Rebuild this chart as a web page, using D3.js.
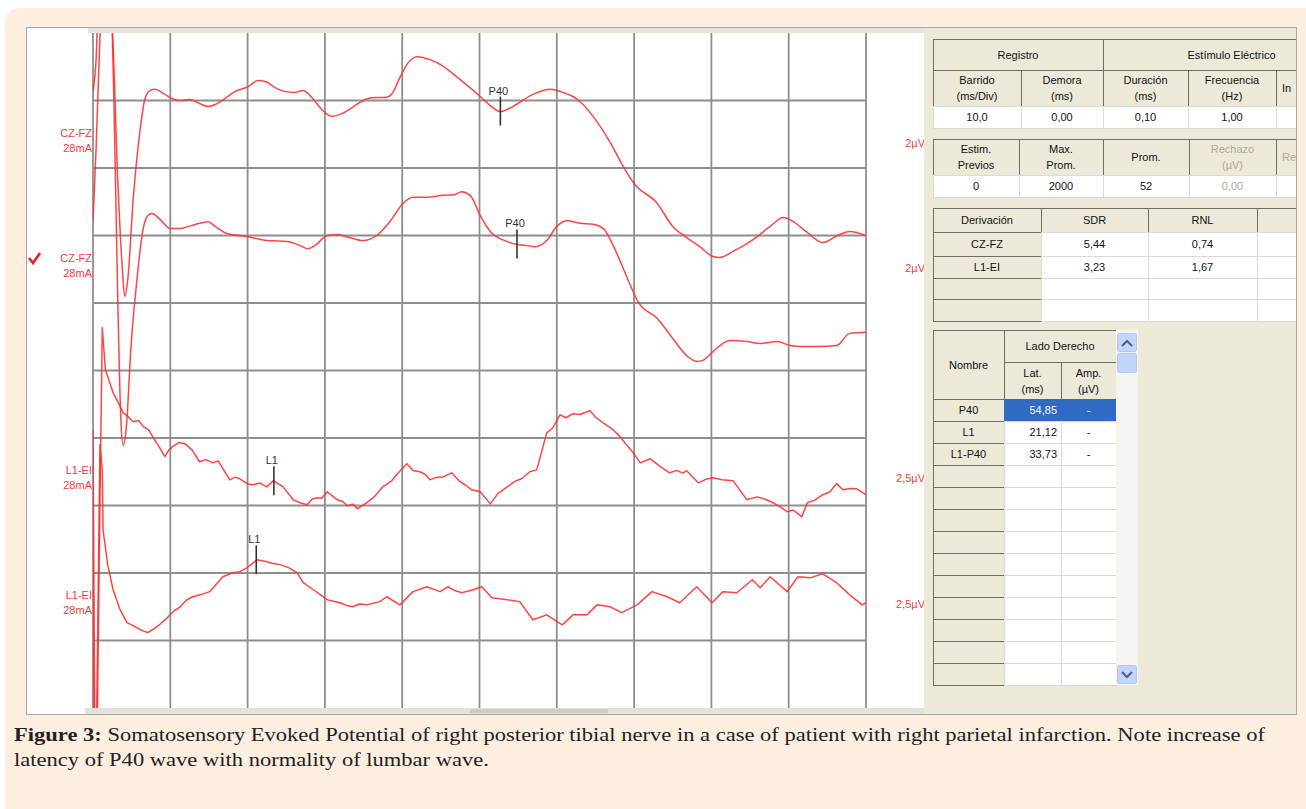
<!DOCTYPE html>
<html>
<head>
    <title>Figure 3 - SEP tibial nerve</title>
    <meta charset="utf-8" />
    <script src="https://cdn.jsdelivr.net/npm/d3@7"></script>
    <style>
        body { margin: 0; background: #fff; }
        svg text { font-family: "Liberation Sans", Arial, sans-serif; }
    </style>
</head>
<body>
<svg width="1306" height="809"></svg>
<script>

    // traces: [time (ms), amplitude (µV)]
    var czfzA = [[0,0.27],[0.4,1.21],[0.8,3.6],[1.7,3.6],[2.5,2.1],[3.2,-2.34],[3.8,-5.0],[4.1,-5.8],[4.5,-5.3],[5.2,-2.93],[6.1,-0.86],[6.7,0.03],[7.4,0.30],[8.0,0.33],[9.1,0.21],[10.2,0.06],[11.3,0],[12.5,0.03],[13.8,-0.09],[14.9,-0.18],[15.8,-0.12],[17.1,0.06],[18.4,0.27],[20.1,0.41],[21.3,0.59],[22.3,0.56],[23.5,0.39],[24.8,0.27],[26.1,0.24],[27.2,0.30],[28.3,0.09],[29.6,-0.27],[30.9,-0.47],[32.2,-0.39],[33.9,-0.15],[35.2,0.03],[36.5,0.09],[37.8,0.09],[38.7,0.21],[39.7,0.68],[40.8,1.13],[42.0,1.30],[43.6,1.21],[44.9,1.07],[47.5,0.62],[50.1,0.12],[51.4,-0.15],[52.7,-0.33],[54.3,-0.18],[56.9,0.18],[59.1,0.33],[60.8,0.24],[62.7,0.03],[64.7,-0.47],[66.9,-1.24],[68.6,-1.96],[70.1,-2.49],[72.9,-3.02],[75.0,-3.73],[76.8,-4.06],[78.5,-4.33],[80.2,-4.62],[81.1,-4.65],[82.8,-4.47],[85.4,-4.12],[87.6,-3.73],[89.3,-3.47],[90.6,-3.59],[92.4,-3.91],[94.4,-4.21],[96.6,-3.97],[97.9,-3.88],[100,-4.0]];

    var czfzB = [[0,0.41],[0.4,2.58],[0.8,5.24],[1.3,7.6],[2.2,7.6],[2.7,4.06],[3.2,-1.87],[3.6,-5.42],[3.9,-6.22],[4.3,-5.72],[4.9,-3.35],[5.7,-1.27],[6.5,0.21],[7.1,0.59],[7.6,0.65],[8.7,0.47],[10.0,0.21],[11.3,0.21],[12.8,0.30],[13.8,0.36],[14.9,0.41],[15.8,0.27],[17.3,0.06],[19.9,-0.03],[22.5,-0.15],[25.1,-0.18],[26.8,-0.30],[27.7,-0.39],[28.7,-0.30],[30.3,0],[31.6,0.03],[33.2,-0.06],[34.9,-0.15],[36.7,0],[38.4,0.41],[40.1,0.95],[41.4,1.13],[43.2,1.13],[45.3,1.19],[46.8,1.21],[47.7,1.30],[48.8,1.19],[50.1,0.59],[51.4,0.12],[53.6,-0.18],[54.9,-0.27],[56.1,-0.30],[57.2,-0.33],[58.7,-0.15],[60.0,0.27],[61.3,0.44],[63.0,0.36],[64.7,0.33],[66.0,0.21],[67.3,-0.30],[68.6,-0.98],[69.7,-1.57],[70.5,-1.96],[73.0,-2.46],[75.0,-3.05],[76.8,-3.56],[78.1,-3.73],[78.9,-3.70],[80.2,-3.44],[82.4,-3.11],[84.6,-3.14],[86.3,-3.20],[88.5,-3.14],[90.2,-3.26],[91.5,-3.29],[93.7,-3.29],[96.2,-3.26],[97.9,-2.90],[100,-2.87]];

    var l1eiA = [[0,1.56],[0.26,-10.7],[0.5,-10.7],[0.8,-3.26],[1.2,5.33],[1.6,3.78],[2.6,2.93],[3.2,2.6],[3.9,2.19],[4.5,2.05],[5.2,1.85],[5.9,1.9],[6.5,1.67],[7.2,1.55],[7.8,1.26],[8.6,0.9],[9.3,0.56],[9.8,0.8],[10.3,0.93],[11.1,1.08],[11.9,1.04],[12.8,0.81],[13.8,0.37],[14.6,0.45],[15.5,0.33],[16.2,0.4],[17.7,-0.30],[18.4,-0.2],[19.0,-0.26],[20.0,-0.45],[20.7,-0.48],[21.6,-0.42],[22.5,-0.56],[23.3,-0.33],[24.6,-0.56],[25.9,-1.04],[26.8,-1.15],[27.7,-1.22],[28.4,-1.0],[29.0,-0.96],[29.6,-0.98],[30.3,-0.74],[31.6,-1.04],[32.3,-1.1],[32.9,-1.26],[33.6,-1.2],[34.2,-1.37],[35.4,-1.15],[36.3,-0.95],[37.5,-0.56],[38.6,-0.35],[39.3,-0.1],[40.6,0.30],[41.4,0.05],[42.3,0],[43.0,-0.1],[43.6,-0.30],[44.5,-0.2],[45.3,-0.19],[46.4,-0.04],[47.4,-0.35],[48.2,-0.5],[49.0,-0.67],[50.1,-0.74],[51.4,-1.19],[52.4,-0.8],[53.6,-0.56],[54.6,-0.35],[55.5,-0.25],[56.5,0],[57.4,0.07],[58.7,1.44],[59.5,1.63],[60.4,2.11],[61.2,2.0],[62.1,2.15],[63.0,2.12],[64.3,2.26],[65.1,2.0],[66.0,1.81],[67.1,1.6],[68.2,1.30],[69.0,1.0],[69.9,0.70],[70.8,0.33],[72.1,0.48],[73.4,0.19],[74.6,-0.04],[75.5,0.05],[76.3,-0.05],[76.8,0.04],[78.3,-0.41],[79.3,-0.28],[80.2,-0.22],[81.4,-0.3],[82.8,-0.33],[84.6,-1.04],[85.9,-0.93],[86.8,-1.0],[88.0,-1.15],[88.9,-1.3],[89.8,-1.48],[90.6,-1.42],[91.7,-1.67],[92.4,-1.15],[93.4,-1.05],[94.4,-0.85],[95.3,-0.75],[96.2,-0.44],[97.0,-0.67],[98.0,-0.62],[98.8,-0.63],[100,-0.85]];

    var l1eiB = [[0,1.74],[0.1,-5.67],[0.4,-5.67],[0.6,-1.22],[0.9,6.0],[1.2,5.07],[1.3,2.85],[1.9,1.56],[2.6,0.63],[3.5,-0.11],[4.4,-0.59],[5.2,-0.7],[6.1,-0.85],[7.1,-0.96],[8.3,-0.74],[9.6,-0.41],[10.5,-0.15],[11.3,0],[12.1,0.25],[12.9,0.37],[14.0,0.45],[15.1,0.56],[16.0,0.85],[16.8,1.11],[18.1,1.26],[19.0,1.3],[19.9,1.44],[20.6,1.6],[21.2,1.74],[22.5,1.67],[23.3,1.6],[24.2,1.56],[25.3,1.45],[26.4,1.26],[27.2,0.89],[28.5,0.63],[29.4,0.45],[30.3,0.26],[31.1,0.2],[32.0,0.15],[32.8,0.05],[33.6,0],[34.5,0.1],[35.4,0.07],[37.1,0.19],[38.0,0.37],[39.7,0.07],[41.4,0.56],[43.2,0.74],[44.9,0.56],[45.9,0.74],[46.8,0.6],[47.7,0.52],[49.2,0.63],[50.3,0.74],[51.6,0.33],[53.6,0.26],[55.2,0.19],[56.9,-0.48],[58.7,-0.30],[60.7,-0.67],[62.1,-0.30],[63.9,-0.30],[65.2,0.07],[66.9,0],[68.4,-0.22],[70.4,0.07],[72.3,0.56],[74.3,0.37],[75.9,0.15],[78.1,0.74],[80.1,0.15],[81.5,0.56],[83.3,0.52],[85.3,1.0],[86.3,0.70],[87.6,1.11],[89.8,0.56],[91.2,1.11],[92.8,1.07],[94.4,1.22],[96.2,0.89],[97.9,0.44],[99.5,0.07],[100,0.15]];

    var traceNames = ["CZ-FZ", "CZ-FZ", "L1-EI", "L1-EI"];
    var traceCurrent = ["28mA", "28mA", "28mA", "28mA"];
    var traceSens = [2, 2, 2.5, 2.5];              // µV per division
    var traceSensLabel = ["2µV", "2µV", "2,5µV", "2,5µV"];

    var markerTrace = [0, 1, 2, 3];
    var markerName = ["P40", "P40", "L1", "L1"];
    var markerMs = [52.7, 54.85, 23.4, 21.12];

    // right hand tables
    var registroHead = ["Barrido\n(ms/Div)", "Demora\n(ms)", "Duración\n(ms)", "Frecuencia\n(Hz)", "In"];
    var registroVals = ["10,0", "0,00", "0,10", "1,00", ""];
    var promHead = ["Estim.\nPrevios", "Max.\nProm.", "Prom.", "Rechazo\n(µV)", "Re"];
    var promVals = ["0", "2000", "52", "0,00", ""];
    var derivNames = ["CZ-FZ", "L1-EI", "", ""];
    var sdrVals = ["5,44", "3,23", "", ""];
    var rnlVals = ["0,74", "1,67", "", ""];
    var peakNames = ["P40", "L1", "L1-P40"];
    var peakLat = ["54,85", "21,12", "33,73"];
    var peakAmp = ["-", "-", "-"];

    var caption1 = " Somatosensory Evoked Potential of right posterior tibial nerve in a case of patient with right parietal infarction. Note increase of";
    var caption2 = "latency of P40 wave with normality of lumbar wave.";

    var svg = d3.select("svg");
    var red = "#f23c3c";

    // background
    svg.append("rect").attr("x", 5).attr("y", 8).attr("width", 1320).attr("height", 820)
        .attr("rx", 14).attr("fill", "#fdeee0");
    svg.append("rect").attr("x", 26.5).attr("y", 27.5).attr("width", 1270).attr("height", 687)
        .attr("fill", "#fff").attr("stroke", "#a8a8a8");
    svg.append("rect").attr("x", 88).attr("y", 28).attr("width", 836).attr("height", 5).attr("fill", "#e6e4da");
    svg.append("rect").attr("x", 85).attr("y", 708).attr("width", 839).attr("height", 6).attr("fill", "#e4e2d8");
    svg.append("rect").attr("x", 470).attr("y", 709).attr("width", 138).attr("height", 4).attr("fill", "#cfcdc2");

    var x = d3.scaleLinear().domain([0, 100]).range([93, 866]);
    var row = d3.scaleLinear().domain([0, 10]).range([33, 708]);
    var baseRow = [1, 3, 6.5, 8.5];

    // grid
    var grid = svg.append("g").attr("stroke", "#8e8e8e").attr("stroke-width", 1.8);
    grid.selectAll("line.v").data(d3.range(0, 101, 10)).enter().append("line")
        .attr("x1", function (d) { return x(d); }).attr("x2", function (d) { return x(d); })
        .attr("y1", row(0)).attr("y2", row(10));
    grid.selectAll("line.h").data(d3.range(1, 10)).enter().append("line")
        .attr("x1", x(0)).attr("x2", x(100))
        .attr("y1", function (d) { return row(d); }).attr("y2", function (d) { return row(d); });

    svg.append("clipPath").attr("id", "plot").append("rect")
        .attr("x", x(0)).attr("y", row(0)).attr("width", x(100) - x(0)).attr("height", row(10) - row(0));

    var traces = [czfzA, czfzB, l1eiA, l1eiB];
    var yScales = traces.map(function (t, i) {
        return d3.scaleLinear().domain([-traceSens[i], traceSens[i]])
            .range([row(baseRow[i] + 1), row(baseRow[i] - 1)]);
    });

    var plot = svg.append("g").attr("clip-path", "url(#plot)");
    traces.forEach(function (t, i) {
        var line = d3.line()
            .x(function (d) { return x(d[0]); })
            .y(function (d) { return yScales[i](d[1]); })
            .curve(i < 2 ? d3.curveMonotoneX : d3.curveLinear);
        plot.append("path").datum(t).attr("d", line)
            .attr("fill", "none").attr("stroke", "#ff3030").attr("stroke-width", 1.5)
            .attr("stroke-linejoin", "round").attr("stroke-opacity", 0.9);
    });

    // peak markers
    function ampAt(t, ms) {
        var i = d3.bisector(function (d) { return d[0]; }).left(t, ms);
        if (i <= 0) return t[0][1];
        var a = t[i - 1], b = t[i];
        return a[1] + (b[1] - a[1]) * (ms - a[0]) / (b[0] - a[0]);
    }
    markerMs.forEach(function (ms, k) {
        var ti = markerTrace[k];
        var mx = x(ms), my = yScales[ti](ampAt(traces[ti], ms));
        svg.append("line").attr("x1", mx).attr("x2", mx).attr("y1", my - 15).attr("y2", my + 14)
            .attr("stroke", "#333").attr("stroke-width", 1.6);
        svg.append("text").attr("x", mx - 2).attr("y", my - 17).attr("text-anchor", "middle")
            .attr("fill", "#333").style("font-size", "11px").text(markerName[k]);
    });

    // channel labels
    var nameY = [137, 262, 474, 599];
    var sensY = [147, 272, 482, 608];
    traceNames.forEach(function (n, i) {
        var t = svg.append("text").attr("text-anchor", "end").attr("fill", red).style("font-size", "11px");
        t.append("tspan").attr("x", 92).attr("y", nameY[i]).text(n);
        t.append("tspan").attr("x", 92).attr("y", nameY[i] + 15).text(traceCurrent[i]);
        svg.append("text").attr("x", 925).attr("y", sensY[i]).attr("text-anchor", "end")
            .attr("fill", red).style("font-size", "11px").text(traceSensLabel[i]);
    });
    svg.append("path").attr("d", "M29,258 L33,263 L40,253").attr("fill", "none")
        .attr("stroke", "#e8202a").attr("stroke-width", 2.6);

    // right panel
    svg.append("clipPath").attr("id", "panel").append("rect")
        .attr("x", 924).attr("y", 28).attr("width", 372).attr("height", 686);
    var panel = svg.append("g").attr("clip-path", "url(#panel)");
    panel.append("rect").attr("x", 924).attr("y", 28).attr("width", 372).attr("height", 686).attr("fill", "#ece9d8");

    var head = { fill: "#ece9d8", stroke: "#6e6d66" };
    var grey = "#aca899";

    function cell(x0, y0, x1, y1, txt, o) {
        o = o || {};
        panel.append("rect").attr("x", x0 + 0.5).attr("y", y0 + 0.5).attr("width", x1 - x0).attr("height", y1 - y0)
            .attr("fill", o.fill || "#fff").attr("stroke", o.stroke || "#dcdad2").attr("stroke-width", 1);
        if (!txt) return;
        var lines = txt.split("\n");
        var cy = (y0 + y1) / 2;
        var tx = o.anchor === "end" ? x1 - 4 : o.anchor === "start" ? x0 + 6 : (x0 + x1) / 2;
        var t = panel.append("text").attr("text-anchor", o.anchor || "middle")
            .attr("fill", o.color || "#111").style("font-size", "11px");
        lines.forEach(function (l, i) {
            t.append("tspan").attr("x", tx).attr("y", cy + 4 + (i - (lines.length - 1) / 2) * 16).text(l);
        });
    }

    // table 1 (last column runs past the panel edge)
    var c1 = [933, 1021, 1103, 1188, 1276, 1360];
    cell(933, 39, 1103, 70, "Registro", head);
    cell(1103, 39, 1360, 70, "Estímulo Eléctrico", head);
    registroHead.forEach(function (h, i) {
        var o = { fill: head.fill, stroke: head.stroke };
        if (i === 4) { o.anchor = "start"; }
        cell(c1[i], 70, c1[i + 1], 106, h, o);
        cell(c1[i], 106, c1[i + 1], 128, registroVals[i]);
    });

    // table 2
    var c2 = [933, 1019, 1103, 1189, 1276, 1360];
    promHead.forEach(function (h, i) {
        var g = i >= 3 ? grey : "#111";
        var o = { fill: head.fill, stroke: head.stroke, color: g };
        if (i === 4) { o.anchor = "start"; }
        cell(c2[i], 139, c2[i + 1], 175, h, o);
        cell(c2[i], 175, c2[i + 1], 197, promVals[i], { color: g });
    });

    // table 3
    var c3 = [933, 1041, 1148, 1257, 1360];
    var r3 = [208, 232, 256, 278, 299, 321];
    ["Derivación", "SDR", "RNL", ""].forEach(function (h, i) {
        cell(c3[i], r3[0], c3[i + 1], r3[1], h, head);
    });
    derivNames.forEach(function (n, j) {
        cell(c3[0], r3[j + 1], c3[1], r3[j + 2], n, head);
        cell(c3[1], r3[j + 1], c3[2], r3[j + 2], sdrVals[j]);
        cell(c3[2], r3[j + 1], c3[3], r3[j + 2], rnlVals[j]);
        cell(c3[3], r3[j + 1], c3[4], r3[j + 2], "");
    });

    // table 4
    var c4 = [933, 1004, 1061, 1116];
    cell(933, 330, 1004, 399, "Nombre", head);
    cell(1004, 330, 1116, 362, "Lado Derecho", head);
    cell(1004, 362, 1061, 399, "Lat.\n(ms)", head);
    cell(1061, 362, 1116, 399, "Amp.\n(µV)", head);
    d3.range(13).forEach(function (j) {
        var y0 = 399 + j * 22, y1 = y0 + 22;
        var sel = j === 0;
        cell(c4[0], y0, c4[1], y1, peakNames[j] || "", head);
        cell(c4[1], y0, c4[2], y1, peakLat[j] || "",
            { anchor: "end", fill: sel ? "#316ac5" : "#fff", stroke: sel ? "#316ac5" : "#dcdad2", color: sel ? "#fff" : "#111" });
        cell(c4[2], y0, c4[3], y1, peakAmp[j] || "",
            { fill: sel ? "#316ac5" : "#fff", stroke: sel ? "#316ac5" : "#dcdad2", color: sel ? "#fff" : "#111" });
    });
    // scrollbar
    panel.append("rect").attr("x", 1116).attr("y", 330).attr("width", 22).attr("height", 355).attr("fill", "#f5f4ef");
    [[333, "M1122,346 L1127,341 L1132,346"], [665, "M1122,672 L1127,677 L1132,672"]].forEach(function (b) {
        panel.append("rect").attr("x", 1117.5).attr("y", b[0] + 0.5).attr("width", 19).attr("height", 18)
            .attr("rx", 2).attr("fill", "#c4d5fa").attr("stroke", "#b4c6ef");
        panel.append("path").attr("d", b[1]).attr("fill", "none").attr("stroke", "#4d6185").attr("stroke-width", 2);
    });
    panel.append("rect").attr("x", 1117.5).attr("y", 353.5).attr("width", 19).attr("height", 19)
        .attr("rx", 2).attr("fill", "#c4d5fa").attr("stroke", "#b4c6ef");

    // caption
    var cap = svg.append("text").attr("x", 14).attr("y", 741).attr("fill", "#222")
        .style("font-family", "'Liberation Serif', serif").style("font-size", "19px");
    cap.append("tspan").style("font-weight", "bold").text("Figure 3:");
    cap.append("tspan").text(caption1);
    var cap2 = svg.append("text").attr("x", 14).attr("y", 766).attr("fill", "#222")
        .style("font-family", "'Liberation Serif', serif").style("font-size", "19px").text(caption2);
    var ratio = 1251 / cap.node().getComputedTextLength();
    cap.attr("textLength", 1251).attr("lengthAdjust", "spacingAndGlyphs");
    cap2.attr("textLength", cap2.node().getComputedTextLength() * ratio).attr("lengthAdjust", "spacingAndGlyphs");

</script>
</body>
</html>
